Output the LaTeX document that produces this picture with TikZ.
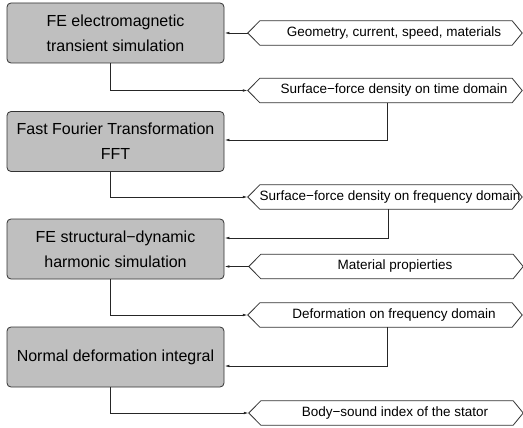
\documentclass[tikz,border=0pt]{standalone}
\usepackage{fontspec}
\setmainfont{Liberation Sans}
\usetikzlibrary{arrows.meta}
\begin{document}
\begin{tikzpicture}[x=1pt,y=-1pt,
  procbox/.style={draw=black!80, line width=0.8pt, fill=black!25, rounded corners=4pt,
    minimum width=217pt, minimum height=60pt, inner sep=0pt, align=center,
    font=\fontsize{16}{25}\selectfont},
  hexbox/.style={minimum width=274pt, minimum height=24pt, inner sep=0pt,
    font=\fontsize{13.5}{16}\selectfont},
  hexline/.style={draw=black!80, line width=0.8pt},
  conn/.style={draw=black!85, line width=0.8pt, -{Latex[length=5pt,width=2.6pt]}}]
\useasboundingbox (0,0) rectangle (523,428);
\fill[white] (0,0) rectangle (523,428);
% process boxes
\node[procbox] (b1) at (115.5,33) {FE electromagnetic\\transient simulation};
\node[procbox] (b2) at (115.5,141.5) {Fast Fourier Transformation\\FFT};
\node[procbox] (b3) at (115.5,249) {FE structural\textminus dynamic\\harmonic simulation};
\node[procbox] (b4) at (115.5,357) {Normal deformation integral};
% data hexagons
\node[hexbox] (h1) at (385,33) {\hspace*{18pt}Geometry, current, speed, materials};
\node[hexbox] (h2) at (385,90.5) {\hspace*{18pt}Surface\textminus force density on time domain};
\node[hexbox] (h3) at (385,197) {\hspace*{10pt}Surface\textminus force density on frequency domain};
\node[hexbox] (h4) at (386,266.5) {\hspace*{18pt}Material propierties};
\node[hexbox] (h5) at (385,315) {\hspace*{18pt}Deformation on frequency domain};
\node[hexbox] (h6) at (386,413) {\hspace*{18pt}Body\textminus sound index of the stator};
\foreach \h in {h1,h2,h3,h4,h5,h6}
  \draw[hexline] (\h.west) -- ([xshift=12pt]\h.north west) -- ([xshift=-10pt]\h.north east)
    -- (\h.east) -- ([xshift=-10pt]\h.south east) -- ([xshift=12pt]\h.south west) -- cycle;
% connectors
\draw[conn] (h1.west) -- (b1.east);
\draw[conn] ([xshift=-5.5pt]b1.south) |- (h2.west);
\draw[conn] ([xshift=2pt]h2.south) |- ([yshift=1.5pt]b2.east);
\draw[conn] ([xshift=-5.5pt]b2.south) |- (h3.west);
\draw[conn] ([xshift=3pt]h3.south) |- ([yshift=11pt]b3.east);
\draw[conn] (h4.west) -- (b3.east |- h4.west);
\draw[conn] ([xshift=-5.5pt]b3.south) |- (h5.west);
\draw[conn] ([xshift=2pt]h5.south) |- ([yshift=-9pt]b4.east);
\draw[conn] ([xshift=-5.5pt]b4.south) |- (h6.west);
\end{tikzpicture}
\end{document}
